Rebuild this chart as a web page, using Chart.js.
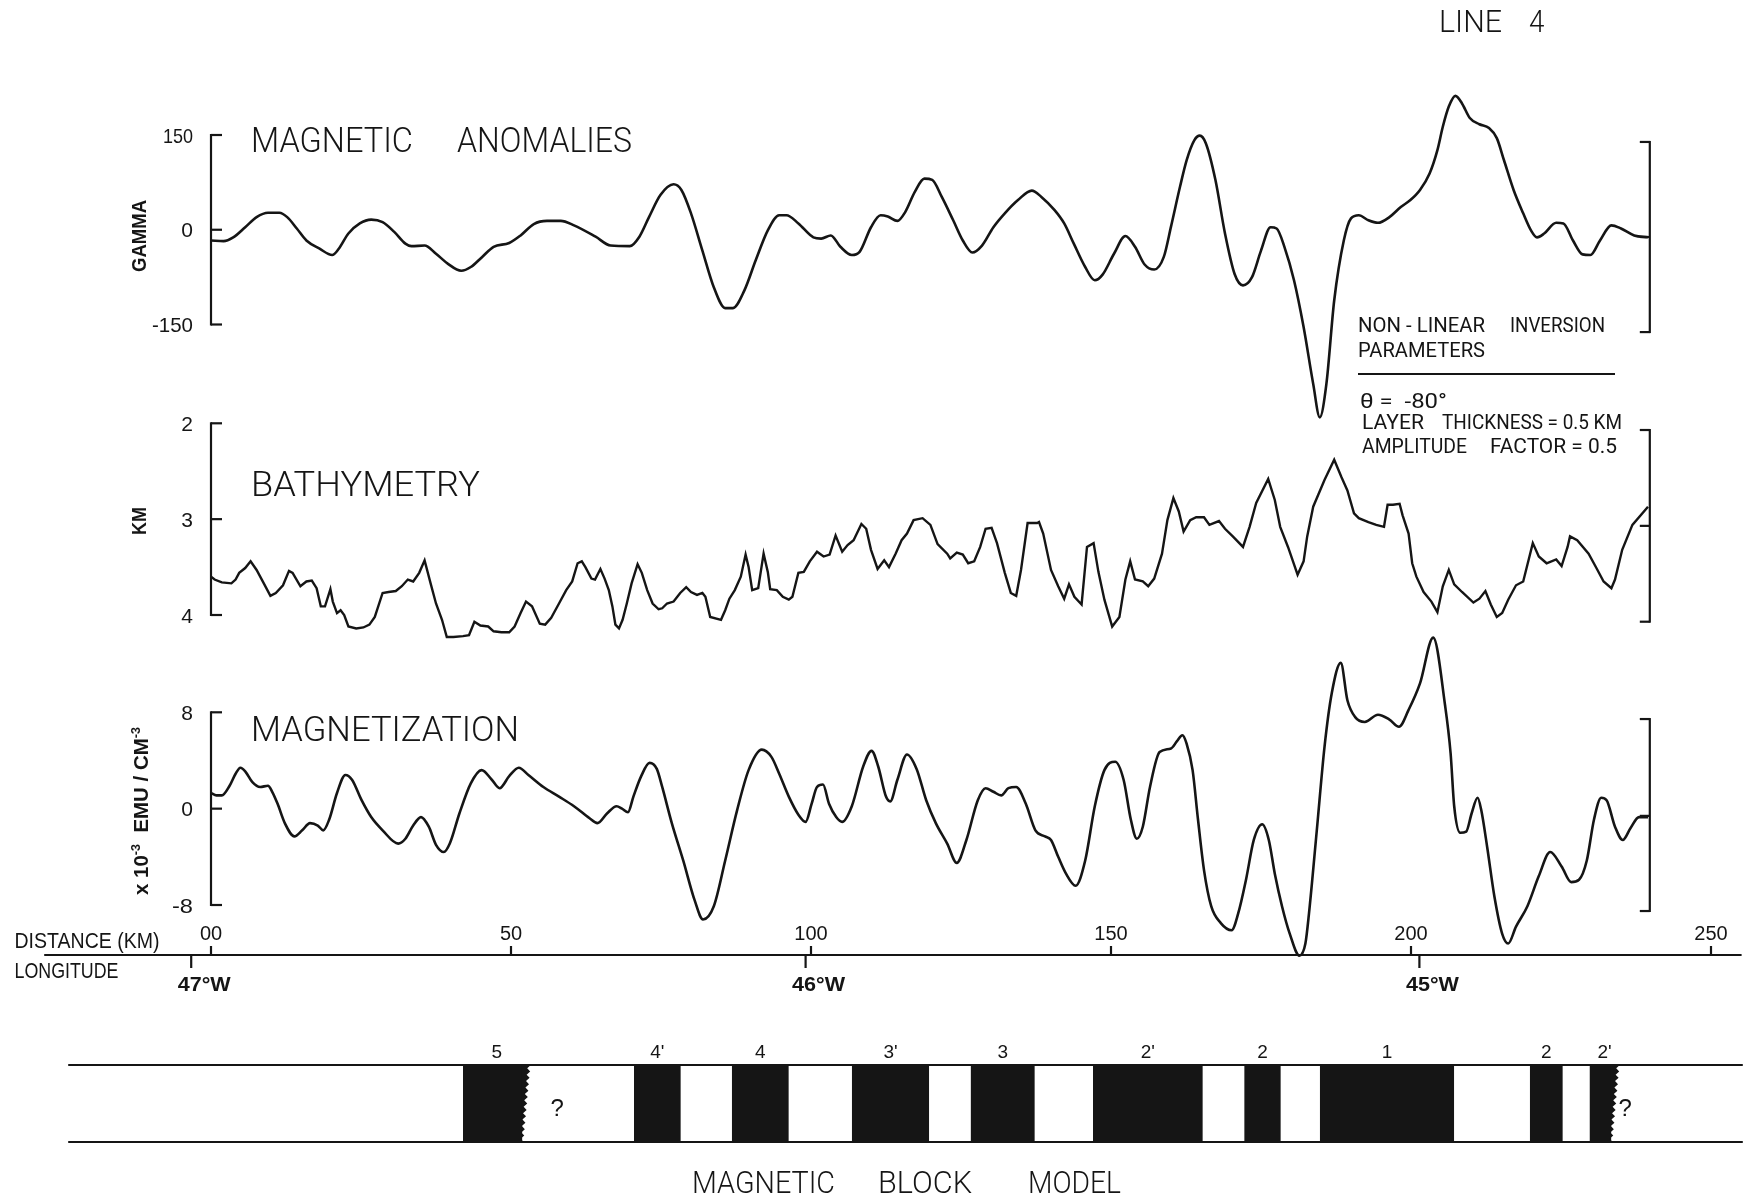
<!DOCTYPE html>
<html>
<head>
<meta charset="utf-8">
<title>LINE 4 - magnetic anomalies, bathymetry, magnetization</title>
<script src="https://cdn.jsdelivr.net/npm/chart.js@4.4.1/dist/chart.umd.min.js"></script>
<style>
html,body{margin:0;padding:0;background:#ffffff;}
canvas{display:block;}
</style>
</head>
<body>
<canvas id="chart" width="1756" height="1200"></canvas>
<script>
// ================= DATA =================
// Magnetic anomalies, gamma, against distance (km)
const anomalyKm = [
  0,2.1,3.7,5.7,7.6,9.5,11.4,12.7,14.3,15.9,
  18.1,20.2,21.3,22.9,24.8,26.7,28.6,30.5,32.4,33.4,
  35.6,37.5,39.5,41.7,43.3,45.2,47.1,49.7,51.6,53.8,
  56.0,58.3,60.5,64.1,66.6,69.8,71.4,73.0,74.9,77.1,
  78.4,80.0,81.9,83.8,85.7,87.0,88.9,90.8,92.8,94.7,
  95.9,97.9,100.4,101.7,103.3,104.9,106.8,108.1,110.0,111.6,
  112.8,114.4,115.7,117.3,118.9,120.2,121.8,123.7,125.3,126.9,
  128.5,130.4,132.3,134.5,136.8,138.4,140.6,142.2,143.8,145.7,
  147.3,148.6,150.5,152.4,154.0,155.6,157.2,158.8,160.0,161.5,
  162.6,163.9,164.8,165.8,167.4,169.0,170.6,172.0,173.5,175.0,
  176.6,177.6,178.9,180.5,182.1,183.7,184.8,185.9,187.2,188.8,
  190.0,191.3,192.9,194.5,196.4,198.3,199.9,201.5,203.1,204.4,
  205.3,206.3,207.4,208.5,209.8,211.4,213.0,214.3,215.5,217.1,
  218.7,220.0,221.0,222.2,224.2,225.4,227.0,228.6,229.9,231.5,
  233.4,235.0,237.2,239.5
];
const anomalyGamma = [
  -17,-18,-12,4,20,27,27,20,2,-17,
  -30,-40,-30,-6,10,16,12,-3,-22,-26,
  -25,-38,-54,-65,-59,-43,-27,-21,-9,9,
  14,14,7,-11,-25,-26,-11,20,55,72,
  63,26,-33,-91,-124,-124,-96,-48,-1,23,
  23,10,-12,-14,-9,-27,-40,-35,4,23,
  21,14,28,60,81,79,52,15,-17,-36,
  -25,4,26,47,62,52,31,10,-22,-59,
  -80,-71,-38,-10,-27,-55,-63,-43,5,68,
  110,142,149,137,79,-6,-70,-88,-75,-33,
  4,2,-27,-80,-154,-244,-297,-244,-112,-17,
  18,23,15,11,20,36,47,63,89,126,
  163,195,212,200,177,167,161,145,110,63,
  26,-1,-12,-6,11,10,-17,-39,-40,-17,
  7,2,-9,-12
];

// Bathymetry, depth in km
const bathyKm = [
  0,0.6,1.8,3.4,4.1,4.7,5.7,6.6,7.6,8.8,
  9.9,10.8,12.0,13.0,13.6,14.9,15.9,16.8,17.6,18.3,
  19.0,19.9,20.3,21.0,21.6,22.2,22.9,24.2,25.4,26.4,
  27.3,28.6,29.6,30.8,31.8,32.8,33.7,34.7,35.6,36.6,
  37.5,38.5,39.3,40.4,42.0,43.0,43.9,44.9,46.2,47.1,
  48.4,49.7,50.6,51.6,52.5,53.5,54.8,55.7,56.7,58.0,
  59.2,60.2,61.1,61.8,62.4,63.4,64.0,64.9,65.6,66.3,
  66.9,67.4,68.0,68.6,69.3,70.1,71.1,71.8,72.7,73.6,
  74.6,75.2,76.0,77.1,78.2,79.2,80.0,81.0,81.9,82.4,
  83.2,85.0,85.7,86.4,87.3,88.3,89.1,89.6,90.2,91.2,
  92.1,92.8,93.2,94.3,95.3,96.3,96.9,97.9,98.8,99.8,
  101.0,102.1,103.1,104.1,105.2,106.1,107.1,108.4,109.2,110.0,
  111.1,112.2,113.0,114.1,115.1,116.0,117.1,118.6,119.9,121.1,
  122.7,123.2,124.3,125.3,126.2,127.2,128.2,129.1,130.1,131.0,
  132.3,133.3,134.2,135.0,136.1,137.7,138.0,138.7,140.0,141.2,
  142.2,143.0,143.9,145.1,146.0,147.1,147.9,148.9,150.2,151.4,
  152.4,153.2,154.0,155.3,156.2,157.2,158.5,159.4,160.4,161.3,
  162.1,163.2,164.2,165.5,166.4,168.0,169.0,170.3,172.0,173.1,
  174.2,176.2,177.3,178.2,179.5,181.1,182.1,182.7,183.7,185.6,
  187.2,188.4,189.4,190.5,191.3,192.9,194.2,195.5,196.1,197.0,
  198.1,198.6,199.6,200.2,200.9,202.1,203.4,204.4,205.3,206.3,
  207.2,208.5,210.4,211.4,212.4,213.3,214.3,215.2,216.2,217.5,
  218.7,220.3,221.3,222.6,224.2,225.1,226.1,226.5,227.7,229.6,
  230.9,232.1,233.4,234.0,235.2,236.9,239.5
];
const bathyDepth = [
  3.60,3.63,3.66,3.67,3.63,3.56,3.51,3.44,3.53,3.67,
  3.80,3.77,3.69,3.54,3.56,3.70,3.65,3.64,3.72,3.91,
  3.91,3.73,3.86,3.98,3.95,4.00,4.12,4.14,4.13,4.10,
  4.02,3.77,3.76,3.75,3.70,3.63,3.65,3.56,3.43,3.67,
  3.88,4.05,4.23,4.23,4.22,4.21,4.07,4.11,4.12,4.17,
  4.18,4.18,4.12,3.98,3.86,3.91,4.09,4.10,4.03,3.88,
  3.74,3.65,3.46,3.44,3.50,3.62,3.63,3.52,3.62,3.74,
  3.91,4.10,4.14,4.05,3.88,3.67,3.47,3.56,3.74,3.88,
  3.94,3.93,3.88,3.86,3.77,3.71,3.76,3.79,3.77,3.81,
  4.02,4.05,3.95,3.83,3.74,3.60,3.37,3.50,3.74,3.72,
  3.36,3.55,3.73,3.74,3.81,3.84,3.81,3.56,3.55,3.44,
  3.34,3.39,3.37,3.17,3.34,3.27,3.22,3.05,3.10,3.32,
  3.52,3.43,3.50,3.36,3.22,3.15,3.01,2.99,3.06,3.26,
  3.36,3.41,3.35,3.37,3.46,3.44,3.29,3.10,3.09,3.25,
  3.56,3.77,3.80,3.53,3.04,3.04,3.03,3.15,3.53,3.70,
  3.83,3.68,3.81,3.89,3.29,3.25,3.55,3.84,4.12,4.02,
  3.63,3.44,3.63,3.65,3.70,3.62,3.36,3.01,2.78,2.92,
  3.13,3.01,2.98,2.98,3.06,3.02,3.10,3.18,3.29,3.08,
  2.83,2.58,2.80,3.08,3.29,3.58,3.44,3.18,2.87,2.59,
  2.38,2.56,2.70,2.94,2.99,3.03,3.06,3.08,2.85,2.85,
  2.84,2.96,3.15,3.46,3.60,3.76,3.86,3.97,3.70,3.53,
  3.68,3.76,3.87,3.83,3.75,3.89,4.02,3.98,3.84,3.69,
  3.65,3.25,3.39,3.46,3.42,3.49,3.29,3.18,3.22,3.36,
  3.51,3.65,3.72,3.63,3.32,3.06,2.87
];

// Magnetization, x 10^-3 emu/cm^3
const magnetKm = [
  0,0.9,1.8,3.1,4.1,4.9,5.7,6.9,8.2,9.5,
  10.2,11.1,12.3,13.9,15.2,16.5,17.8,18.7,19.7,21.0,
  22.4,23.5,25.1,26.7,28.6,31.2,32.4,33.7,35.0,36.3,
  37.5,38.8,39.8,41.4,43.3,45.1,46.8,48.1,49.7,51.3,
  52.9,55.4,58.0,60.5,63.1,64.4,66.0,67.6,68.5,69.5,
  70.4,71.7,73.1,74.3,75.2,76.8,78.7,80.6,82.0,83.8,
  85.7,87.7,89.6,91.8,93.4,94.7,96.3,97.9,99.1,100.1,
  101.0,102.0,103.0,104.2,105.2,106.8,108.7,110.1,111.2,112.5,
  113.2,114.4,116.0,117.6,119.2,120.8,122.7,124.3,125.9,127.8,
  129.1,130.4,131.7,132.9,134.2,135.8,137.4,139.0,140.0,141.2,
  142.5,144.1,145.7,147.3,148.9,150.7,152.1,153.3,154.3,155.3,
  156.5,158.1,160.0,161.0,161.9,162.6,163.6,164.5,165.5,166.7,
  168.3,170.1,171.2,172.5,173.8,175.2,176.3,177.3,178.5,179.8,
  181.4,182.4,183.0,184.3,185.6,186.8,188.3,189.4,190.7,192.3,
  194.5,196.4,198.0,199.6,201.5,203.7,205.7,206.6,207.2,208.2,
  209.2,210.1,211.1,211.7,212.7,213.9,215.2,216.2,217.5,219.4,
  221.3,223.2,225.1,226.7,228.0,229.3,230.5,231.7,232.6,234.0,
  235.3,236.6,238.0,239.5
];
const magnetValue = [
  1.3,1.1,1.1,1.9,2.9,3.4,3.1,2.2,1.8,1.9,
  1.4,0.4,-1.2,-2.3,-1.8,-1.2,-1.4,-1.8,-0.9,1.3,
  2.8,2.4,0.7,-0.7,-1.8,-2.9,-2.5,-1.4,-0.7,-1.5,
  -3.0,-3.6,-2.9,-0.4,2.1,3.2,2.4,1.7,2.7,3.4,
  2.8,1.8,1.0,0.2,-0.8,-1.2,-0.4,0.2,0.0,-0.3,
  1.0,2.7,3.8,3.3,1.8,-1.2,-4.3,-7.6,-9.2,-8.1,
  -4.3,-0.1,3.2,4.9,4.3,2.9,1.0,-0.5,-1.1,0.4,
  1.8,2.0,0.4,-0.7,-1.1,0.2,3.5,4.8,3.5,1.0,
  0.6,2.4,4.5,3.3,0.7,-1.2,-2.9,-4.5,-2.6,0.7,
  1.7,1.4,1.1,1.7,1.8,0.4,-1.8,-2.3,-2.6,-4.0,
  -5.4,-6.4,-4.3,0.2,3.2,3.9,2.4,-0.9,-2.5,-1.5,
  1.8,4.7,5.0,5.6,6.1,5.4,3.2,-0.9,-5.1,-8.1,
  -9.5,-10.1,-8.7,-5.9,-2.6,-1.3,-2.6,-5.4,-8.1,-10.4,
  -12.2,-11.2,-8.7,-1.8,5.2,9.6,12.1,9.0,7.6,7.2,
  7.8,7.4,6.8,8.2,10.4,14.2,8.5,4.6,0.2,-2.0,
  -1.9,-0.4,0.9,-0.1,-3.2,-7.3,-10.4,-11.2,-9.8,-8.1,
  -5.6,-3.6,-4.8,-6.1,-5.9,-4.3,-0.9,0.9,0.7,-1.5,
  -2.6,-1.6,-0.7,-0.7
];

// Magnetic block model (normal-polarity blocks), km
const blockLabels = ['5', "4'", '4', "3'", '3', "2'", '2', '1', '2', "2'"];
const blockStartKm = [42.0, 70.5, 86.8, 106.8, 126.6, 147.0, 172.2, 184.8, 219.8, 229.75];
const blockEndKm   = [53.3, 78.3, 96.3, 119.7, 137.3, 165.3, 178.3, 207.2, 225.3, 234.8];
const blockJagged  = [true, false, false, false, false, false, false, false, false, true];

// Axis ticks
const anomalyTicks = [150, 0, -150];
const anomalyTickLabels = ['150', '0', '-150'];
const bathyTicks = [2, 3, 4];
const bathyTickLabels = ['2', '3', '4'];
const magnetTicks = [8, 0, -8];
const magnetTickLabels = ['8', '0', '-8'];
const distanceTicks = [0, 50, 100, 150, 200, 250];
const distanceTickLabels = ['00', '50', '100', '150', '200', '250'];
const longitudeTicksKm = [-3.3, 99.1, 201.4];
const longitudeTickLabels = ['47°W', '46°W', '45°W'];

// ================= LAYOUT / STYLE =================
const INK = '#151515';
const W = 1756, H = 1200;
const PAD = {left: 16, right: 6, top: 30, bottom: 4};
const AREA = {left: PAD.left, right: W - PAD.right, top: PAD.top, bottom: H - PAD.bottom};
const LETTER = 'Roboto, "Liberation Sans", Arial, sans-serif';
const SANS = '"Liberation Sans", Arial, sans-serif';

function fitRange(v1, p1, v2, p2, lo, hi) {
  const b = (p2 - p1) / (v2 - v1), a = p1 - b * v1;
  const u = (lo - a) / b, w = (hi - a) / b;
  return {min: Math.min(u, w), max: Math.max(u, w)};
}
const xR  = fitRange(0, 211, 250, 1711, AREA.left, AREA.right);
const yAR = fitRange(150, 135, -150, 324.5, AREA.top, AREA.bottom);
const yBR = fitRange(2, 423.3, 4, 615, AREA.top, AREA.bottom);
const yMR = fitRange(8, 712.3, -8, 905, AREA.top, AREA.bottom);
const yKR = fitRange(1, 1065, 0, 1142, AREA.top, AREA.bottom);

const RIGHT_BRACKET_KM = 239.8;
const panels = [
  {axis: 'yA', ticks: anomalyTicks, labels: anomalyTickLabels, right: [139, -11.5, -162], widths: [30, null, 41]},
  {axis: 'yB', ticks: bathyTicks, labels: bathyTickLabels, right: [2.07, 3.07, 4.07], widths: [null, null, null]},
  {axis: 'yM', ticks: magnetTicks, labels: magnetTickLabels, right: [7.44, -0.6, -8.5], widths: [null, null, 21]}
];
const AXIS_Y = 955, AXIS_FROM_KM = -27.8, AXIS_TO_KM = 255.1;
const MODEL_FROM_KM = -23.8, MODEL_TO_KM = 255.3;
const QUESTION_KM = [57.7, 235.7];
const JAG_KM = 1.4;

const zip = (xs, ys) => xs.map((x, i) => ({x, y: ys[i]}));
function blockSteps() {
  const pts = [];
  blockStartKm.forEach((s, i) => {
    const e = blockJagged[i] ? blockEndKm[i] - JAG_KM : blockEndKm[i];
    pts.push({x: s, y: 1}, {x: e, y: 1}, {x: e, y: null});
  });
  return pts;
}

function fitText(ctx, s, x, y, font, width, align) {
  ctx.font = font;
  ctx.textAlign = align || 'left';
  ctx.textBaseline = 'alphabetic';
  const w = ctx.measureText(s).width;
  const k = width ? width / w : 1;
  ctx.save();
  ctx.translate(x, y);
  ctx.scale(k, 1);
  ctx.fillText(s, 0, 0);
  ctx.restore();
}
function rotatedRuns(ctx, runs, cx, cy, len, capH) {
  let total = 0;
  runs.forEach(r => { ctx.font = r.font; r.w = ctx.measureText(r.t).width; total += r.w; });
  const k = len / total;
  ctx.save();
  ctx.translate(cx, cy);
  ctx.rotate(-Math.PI / 2);
  ctx.scale(k, 1);
  ctx.textAlign = 'left';
  ctx.textBaseline = 'alphabetic';
  let x = -total / 2;
  runs.forEach(r => { ctx.font = r.font; ctx.fillText(r.t, x, capH / 2 + (r.dy || 0)); x += r.w; });
  ctx.restore();
}
function seg(ctx, x1, y1, x2, y2) { ctx.beginPath(); ctx.moveTo(x1, y1); ctx.lineTo(x2, y2); ctx.stroke(); }

const decor = {
  id: 'decor',
  afterDatasetsDraw(chart) {
    const ctx = chart.ctx, X = chart.scales.x;
    ctx.save();
    ctx.strokeStyle = INK; ctx.fillStyle = INK; ctx.lineCap = 'butt';

    // ---- panel brackets + tick labels ----
    ctx.lineWidth = 2.2;
    panels.forEach(p => {
      const sc = chart.scales[p.axis];
      const x0 = X.getPixelForValue(0);
      const yT = sc.getPixelForValue(p.ticks[0]), yB = sc.getPixelForValue(p.ticks[p.ticks.length - 1]);
      seg(ctx, x0, yT - 1, x0, yB + 1);
      p.ticks.forEach((t, i) => {
        const y = sc.getPixelForValue(t);
        seg(ctx, x0, y, x0 + 11, y);
        fitText(ctx, p.labels[i], x0 - 18, y + 7.5, `21px ${SANS}`, p.widths[i], 'right');
      });
      const xr = X.getPixelForValue(RIGHT_BRACKET_KM);
      const r0 = sc.getPixelForValue(p.right[0]), r2 = sc.getPixelForValue(p.right[2]);
      seg(ctx, xr, r0 - 1, xr, r2 + 1);
      p.right.forEach(v => { const y = sc.getPixelForValue(v); seg(ctx, xr, y, xr - 10, y); });
    });

    // ---- distance / longitude axis ----
    ctx.lineWidth = 2.2;
    seg(ctx, X.getPixelForValue(AXIS_FROM_KM), AXIS_Y, X.getPixelForValue(AXIS_TO_KM), AXIS_Y);
    distanceTicks.forEach((t, i) => {
      const x = X.getPixelForValue(t);
      seg(ctx, x, AXIS_Y, x, AXIS_Y - 9);
      fitText(ctx, distanceTickLabels[i], x, 940, `20px ${SANS}`, null, 'center');
    });
    longitudeTicksKm.forEach((t, i) => {
      const x = X.getPixelForValue(t);
      seg(ctx, x, AXIS_Y, x, AXIS_Y + 13);
      fitText(ctx, longitudeTickLabels[i], x + 13, 991, `bold 21px ${SANS}`, 53, 'center');
    });
    fitText(ctx, 'DISTANCE (KM)', 14.5, 948, `22px ${SANS}`, 145, 'left');
    fitText(ctx, 'LONGITUDE', 14.5, 978, `22px ${SANS}`, 104, 'left');

    // ---- block model frame, jagged edges, labels ----
    const K = chart.scales.yK;
    const yTop = K.getPixelForValue(1), yBot = K.getPixelForValue(0);
    ctx.lineWidth = 2.2;
    seg(ctx, X.getPixelForValue(MODEL_FROM_KM), yTop, X.getPixelForValue(MODEL_TO_KM), yTop);
    seg(ctx, X.getPixelForValue(MODEL_FROM_KM), yBot, X.getPixelForValue(MODEL_TO_KM), yBot);
    blockStartKm.forEach((s, i) => {
      const e = blockEndKm[i];
      if (blockJagged[i]) {
        const xr = X.getPixelForValue(e - JAG_KM), xt = X.getPixelForValue(e);
        const xb = X.getPixelForValue(e - JAG_KM * 0.85);
        const n = 12;
        ctx.beginPath();
        ctx.moveTo(xr - 1, yTop);
        ctx.lineTo(xt, yTop);
        for (let j = 1; j <= n; j++) {
          const f = j / n;
          const xm = xt + (xb - xt) * f;
          const yy = yTop + (yBot - yTop) * f;
          ctx.lineTo(xm - 3, yy - (yBot - yTop) / (2 * n));
          ctx.lineTo(xm, yy);
        }
        ctx.lineTo(xr - 1, yBot);
        ctx.closePath();
        ctx.fill();
      }
      fitText(ctx, blockLabels[i], X.getPixelForValue((s + e) / 2), 1058, `19px ${SANS}`, null, 'center');
    });
    QUESTION_KM.forEach(q => fitText(ctx, '?', X.getPixelForValue(q), 1116, `24px ${SANS}`, null, 'center'));

    // ---- titles and notes ----
    const T = (px, wt) => `${wt || 300} ${px}px ${LETTER}`;
    [
      ['MAGNETIC', 251, 152, 35, 162], ['ANOMALIES', 457, 152, 35, 175],
      ['BATHYMETRY', 251, 496, 35, 229], ['MAGNETIZATION', 251, 741, 35, 268],
      ['LINE', 1439, 32, 31, 63], ['4', 1529, 32, 31, 15.4],
      ['MAGNETIC', 692, 1193, 31, 143], ['BLOCK', 878, 1193, 31, 94], ['MODEL', 1028, 1193, 31, 93],
      ['NON - LINEAR', 1358, 332, 21, 127, 400], ['INVERSION', 1510, 332, 21, 95, 400],
      ['PARAMETERS', 1358, 357, 21, 127, 400],
      ['\u03B8 =  -80\u00B0', 1360, 408, 21, 87, 400],
      ['LAYER', 1362, 429, 21, 62, 400], ['THICKNESS = 0.5 KM', 1442, 429, 21, 180, 400],
      ['AMPLITUDE', 1362, 453, 21, 105, 400], ['FACTOR = 0.5', 1490, 453, 21, 127, 400]
    ].forEach(([s, x, y, px, w, wt]) => fitText(ctx, s, x, y, T(px, wt), w, 'left'));
    ctx.lineWidth = 2;
    seg(ctx, 1358, 374, 1615, 374);

    // ---- rotated unit labels ----
    rotatedRuns(ctx, [{t: 'GAMMA', font: `bold 21px ${SANS}`}], 138.5, 236, 72, 15);
    rotatedRuns(ctx, [{t: 'KM', font: `bold 21px ${SANS}`}], 138.5, 521, 28, 15);
    rotatedRuns(ctx, [
      {t: 'x 10', font: `bold 21px ${SANS}`},
      {t: '-3', font: `bold 13px ${SANS}`, dy: -8},
      {t: '  EMU / CM', font: `bold 21px ${SANS}`},
      {t: '-3', font: `bold 13px ${SANS}`, dy: -8}
    ], 140, 811, 168, 15);

    ctx.restore();
  }
};

new Chart(document.getElementById('chart'), {
  type: 'line',
  data: {
    datasets: [
      {label: 'Magnetic anomalies (gamma)', data: zip(anomalyKm, anomalyGamma), yAxisID: 'yA',
       borderColor: INK, borderWidth: 2.6, pointRadius: 0, cubicInterpolationMode: 'monotone', fill: false},
      {label: 'Bathymetry (km)', data: zip(bathyKm, bathyDepth), yAxisID: 'yB',
       borderColor: INK, borderWidth: 2.4, pointRadius: 0, tension: 0, fill: false},
      {label: 'Magnetization (x10^-3 emu/cm^3)', data: zip(magnetKm, magnetValue), yAxisID: 'yM',
       borderColor: INK, borderWidth: 2.6, pointRadius: 0, cubicInterpolationMode: 'monotone', fill: false},
      {label: 'Magnetic block model', data: blockSteps(), yAxisID: 'yK',
       borderColor: 'rgba(0,0,0,0)', borderWidth: 1, backgroundColor: INK, pointRadius: 0,
       tension: 0, spanGaps: false, fill: 'origin'}
    ]
  },
  options: {
    responsive: false, animation: false, devicePixelRatio: 1,
    layout: {padding: PAD},
    plugins: {legend: {display: false}, tooltip: {enabled: false}, title: {display: false}},
    scales: {
      x:  {type: 'linear', display: false, bounds: 'data', min: xR.min, max: xR.max},
      yA: {type: 'linear', display: false, bounds: 'data', min: yAR.min, max: yAR.max},
      yB: {type: 'linear', display: false, bounds: 'data', reverse: true, min: yBR.min, max: yBR.max},
      yM: {type: 'linear', display: false, bounds: 'data', min: yMR.min, max: yMR.max},
      yK: {type: 'linear', display: false, bounds: 'data', min: yKR.min, max: yKR.max}
    }
  },
  plugins: [decor]
});
</script>
</body>
</html>
